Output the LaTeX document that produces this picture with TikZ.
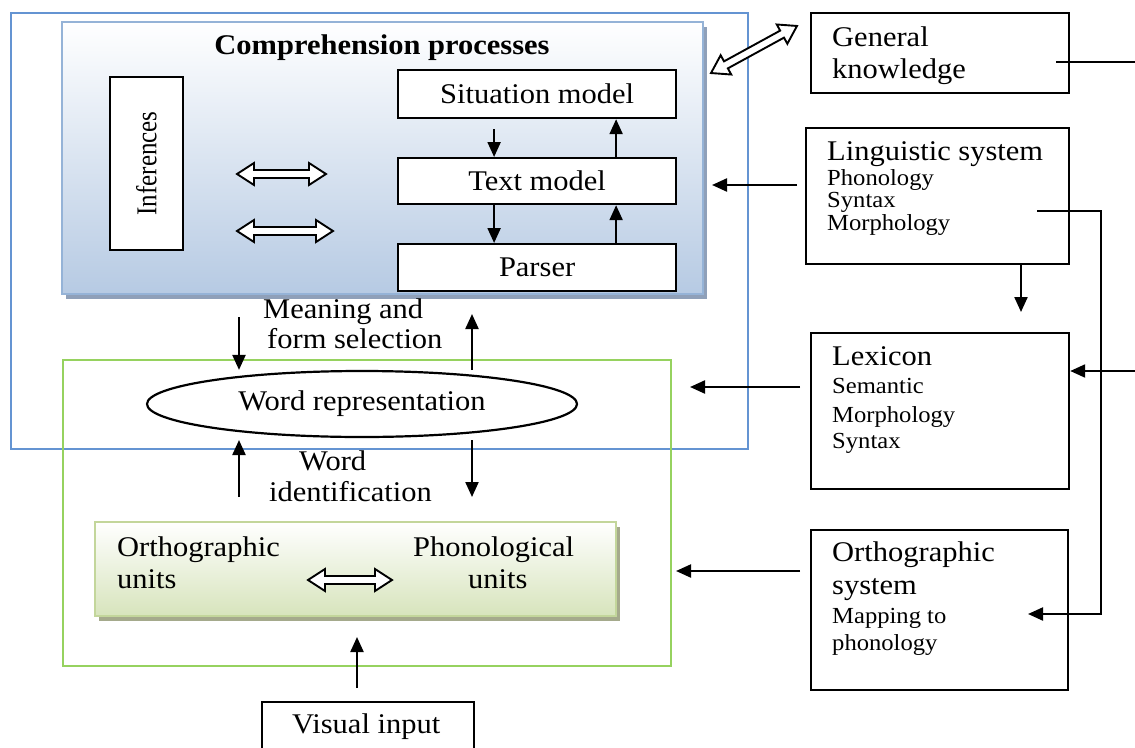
\documentclass[tikz,border=0pt]{standalone}
\usepackage{fontspec}
\setmainfont{Liberation Serif}[FakeStretch=1.07]
\newfontfamily\infont{Liberation Serif}
\usetikzlibrary{arrows.meta,shapes.geometric,shadows}
\definecolor{outerblue}{RGB}{100,148,210}
\definecolor{outergreen}{RGB}{150,210,95}
\definecolor{compborder}{RGB}{149,179,215}
\definecolor{compbottom}{RGB}{182,202,227}
\definecolor{compshadow}{RGB}{143,160,185}
\definecolor{unitborder}{RGB}{195,214,155}
\definecolor{unitbottom}{RGB}{215,228,188}
\definecolor{unitshadow}{RGB}{165,170,140}
\newcommand{\hollowdbl}[4]{%
  \begin{scope}[shift={(#1,#2)},rotate=#4]
  \draw[line width=1.9pt,fill=white,line join=miter]
    ({-#3/2},0) -- ({-#3/2+17},11) -- ({-#3/2+17},4) -- ({#3/2-17},4) -- ({#3/2-17},11)
    -- ({#3/2},0) -- ({#3/2-17},-11) -- ({#3/2-17},-4) -- ({-#3/2+17},-4) -- ({-#3/2+17},-11) -- cycle;
  \end{scope}}
\tikzset{
  box/.style={draw=black,line width=2.2pt,fill=white,inner sep=0pt},
  blk/.style={line width=2.2pt,-{Triangle[length=15pt,width=13pt]}},
  big/.style={inner sep=0pt,font=\fontsize{28.5}{32}\selectfont},
  lab/.style={inner sep=0pt,font=\fontsize{28.5}{32}\selectfont,anchor=base west},
  bigl/.style={big,anchor=base west},
  sml/.style={inner sep=0pt,font=\fontsize{23}{26}\selectfont,anchor=base west},
}
\begin{document}
\begin{tikzpicture}[x=1pt,y=-1pt]
\useasboundingbox[fill=white] (0,0) rectangle (1135,747);
% frames
\node[draw=outerblue,line width=1.8pt,inner sep=0pt,minimum width=737pt,minimum height=436pt,anchor=north west] (outer) at (10,12) {};
\node[draw=outergreen,line width=1.8pt,inner sep=0pt,minimum width=608pt,minimum height=306pt,anchor=north west] (green) at (62,359) {};
% comprehension box
\node[draw=compborder,line width=2.2pt,inner sep=0pt,minimum width=641pt,minimum height=272pt,anchor=north west,
  top color=white,bottom color=compbottom,
  drop shadow={shadow xshift=4pt,shadow yshift=-5pt,fill=compshadow,opacity=1}] (comp) at (61,21) {};
\node[big,font=\bfseries\fontsize{28.5}{32}\selectfont,anchor=base] (title) at (382,54) {Comprehension processes};
\node[box,rotate=90,minimum width=173pt,minimum height=73pt,font=\infont\fontsize{25}{28}\selectfont] (inf) at (146.5,163.5) {\scalebox{1}[1.15]{Inferences}};
\node[box,big,minimum width=278pt,minimum height=48pt,anchor=north west] (sit) at (397,69) {Situation model};
\node[box,big,minimum width=278pt,minimum height=46pt,anchor=north west] (tm) at (397,157) {Text model};
\node[box,big,minimum width=278pt,minimum height=47pt,anchor=north west] (par) at (397,243) {Parser};
\draw[blk] ([xshift=-43pt,yshift=-10pt]sit.south) -- ([xshift=-43pt]tm.north);
\draw[blk] ([xshift=79pt]tm.north) -- ([xshift=79pt]sit.south);
\draw[blk] ([xshift=-43pt]tm.south) -- ([xshift=-43pt]par.north);
\draw[blk] ([xshift=79pt]par.north) -- ([xshift=79pt]tm.south);
\hollowdbl{281.5}{174}{89}{0}
\hollowdbl{285}{231}{96}{0}
% word representation
\node[ellipse,draw=black,line width=2.2pt,inner sep=0pt,minimum width=430pt,minimum height=66pt,big] (wr) at (362,404) {\raisebox{-3pt}{Word representation}};
\node[lab] (mean1) at (263,318) {Meaning and};
\node[lab] (mean2) at (267,348) {form selection};
\node[lab] (wid1) at (299,470) {Word};
\node[lab] (wid2) at (269,501) {identification};
\coordinate (m1) at (239,317);
\coordinate (m2) at (472,370);
\coordinate (m3) at (472,314);
\coordinate (w1) at (239,497);
\coordinate (w2) at (239,440);
\coordinate (w3) at (472,440);
\coordinate (w4) at (472,497);
\draw[blk] (m1) -- (m1 |- wr.north);
\draw[blk] (m2) -- (m3);
\draw[blk] (w1) -- (w2);
\draw[blk] (w3) -- (w4);
% units box
\node[draw=unitborder,line width=2.2pt,inner sep=0pt,minimum width=521pt,minimum height=94pt,anchor=north west,
  top color=white,bottom color=unitbottom,
  drop shadow={shadow xshift=4pt,shadow yshift=-5pt,fill=unitshadow,opacity=1}] (units) at (94,521) {};
\node[bigl] (ou1) at (117,556) {Orthographic};
\node[bigl] (ou2) at (117,588) {units};
\node[bigl] (pu1) at (413,556) {Phonological};
\node[bigl] (pu2) at (468,588) {units};
\hollowdbl{350}{580}{84}{0}
% visual input
\node[box,minimum width=212pt,minimum height=70pt,anchor=north west] (vis) at (261,701) {};
\node[bigl] (vist) at (292,733) {Visual input};
\coordinate (v1) at (357,688);
\coordinate (v2) at (357,637);
\draw[blk] (v1) -- (v2);
% right column
\node[box,minimum width=258pt,minimum height=80pt,anchor=north west] (gk) at (810,12) {};
\node[bigl] (gk1) at (832,46) {General};
\node[bigl] (gk2) at (832,78) {knowledge};
\node[box,minimum width=263pt,minimum height=136pt,anchor=north west] (ling) at (805,127) {};
\node[bigl] (ls1) at (827,160) {Linguistic system};
\node[sml] (ls2) at (827,185) {Phonology};
\node[sml] (ls3) at (827,207) {Syntax};
\node[sml] (ls4) at (827,230) {Morphology};
\node[box,minimum width=258pt,minimum height=156pt,anchor=north west] (lex) at (810,332) {};
\node[bigl] (lx1) at (832,365) {Lexicon};
\node[sml] (lx2) at (832,393) {Semantic};
\node[sml] (lx3) at (832,422) {Morphology};
\node[sml] (lx4) at (832,448) {Syntax};
\node[box,minimum width=257pt,minimum height=160pt,anchor=north west] (orth) at (810,529) {};
\node[bigl] (os1) at (832,561) {Orthographic};
\node[bigl] (os2) at (832,594) {system};
\node[sml] (os3) at (832,623) {Mapping to};
\node[sml] (os4) at (832,650) {phonology};
\hollowdbl{754}{49.5}{98}{28.7}
% connectors on the right
\coordinate (a1) at (797,185);
\coordinate (a1e) at (712,185);
\draw[blk] (a1) -- (a1e);
\coordinate (a2) at (800,387);
\coordinate (a2e) at (690,387);
\draw[blk] (a2) -- (a2e);
\coordinate (a3) at (800,571);
\coordinate (a3e) at (676,571);
\draw[blk] (a3) -- (a3e);
\coordinate (d1) at (1021,0);
\draw[blk] (d1 |- ling.south) -- ([yshift=20pt]d1 |- lex.north);
\coordinate (l1) at (1037,211);
\coordinate (l2) at (1101,211);
\coordinate (l3) at (1101,614);
\coordinate (l4) at (1028,614);
\draw[blk] (l1) -- (l2) -- (l3) -- (l4);
\coordinate (g1) at (1056,62);
\coordinate (g2) at (1140,62);
\draw[line width=2pt] (g1) -- (g2);
\coordinate (x1) at (1140,371);
\draw[blk] (x1) -- (x1 -| lex.east);
\end{tikzpicture}
\end{document}
